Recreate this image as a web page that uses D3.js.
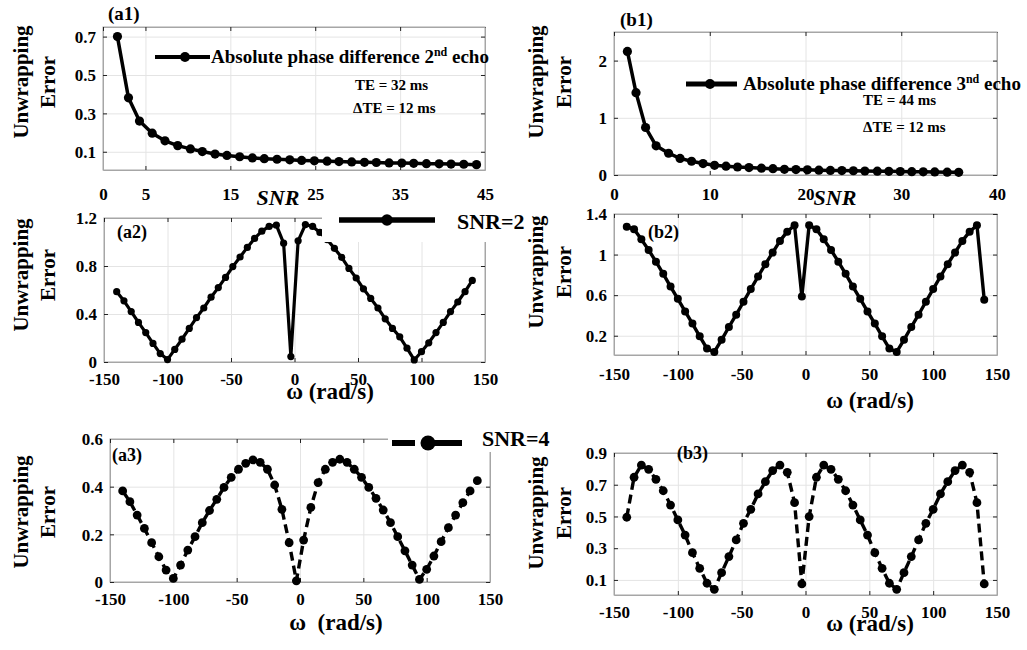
<!DOCTYPE html>
<html><head><meta charset="utf-8">
<script src="https://cdn.jsdelivr.net/npm/d3@7"></script>
<style>
body{margin:0;background:#fff}
svg text{font-family:"Liberation Serif","Times New Roman",Times,Tinos,"DejaVu Serif",serif !important;font-weight:bold;fill:#000}
</style>
</head><body><svg id="c" width="1027" height="650"></svg>
<script>
// ---------- data ----------
const a1SNR = [1.7,3.0,4.3,5.8,7.3,8.8,10.3,11.7,13.2,14.6,16.1,17.6,19.0,20.5,22.0,23.4,24.9,26.4,27.8,29.3,30.8,32.2,33.7,35.2,36.6,38.1,39.6,41.0,42.5,44.0];
const a1Err = [0.70,0.381,0.26,0.197,0.157,0.132,0.115,0.101,0.088,0.081,0.074,0.068,0.064,0.061,0.058,0.055,0.053,0.051,0.049,0.047,0.045,0.044,0.042,0.041,0.040,0.038,0.037,0.036,0.035,0.033];
const b1SNR = [1.4,2.3,3.3,4.4,5.7,6.9,8.1,9.3,10.5,11.7,12.9,14.1,15.4,16.6,17.8,19.0,20.2,21.4,22.6,23.8,25.0,26.2,27.5,28.7,29.9,31.1,32.3,33.5,34.8,36.0];
const b1Err = [2.16,1.44,0.83,0.51,0.38,0.29,0.24,0.20,0.17,0.155,0.14,0.13,0.12,0.11,0.10,0.095,0.09,0.085,0.08,0.077,0.074,0.07,0.067,0.064,0.061,0.058,0.056,0.053,0.05,0.047];
const omega = [-140,-134.29,-128.57,-122.86,-117.14,-111.43,-105.71,-100,-94.29,-88.57,-82.86,-77.14,-71.43,-65.71,-60,-54.29,-48.57,-42.86,-37.14,-31.43,-25.71,-20,-14.29,-8.57,-2.86,2.86,8.57,14.29,20,25.71,31.43,37.14,42.86,48.57,54.29,60,65.71,71.43,77.14,82.86,88.57,94.29,100,105.71,111.43,117.14,122.86,128.57,134.29,140];
const a2Err = [0.586,0.51,0.42,0.33,0.245,0.155,0.07,0.02,0.105,0.19,0.28,0.37,0.45,0.54,0.62,0.705,0.795,0.875,0.955,1.03,1.09,1.13,1.14,0.99,0.045,
               1.01,1.145,1.13,1.08,1.02,0.947,0.872,0.78,0.70,0.61,0.53,0.45,0.36,0.28,0.21,0.115,0.017,0.086,0.16,0.245,0.33,0.42,0.50,0.586,0.68];
const b2Err = [1.275,1.25,1.15,1.045,0.93,0.81,0.685,0.564,0.44,0.32,0.194,0.073,0.04,0.16,0.286,0.407,0.535,0.66,0.784,0.905,1.02,1.135,1.226,1.29,0.587,
               1.29,1.25,1.15,1.045,0.93,0.81,0.685,0.564,0.44,0.32,0.194,0.073,0.04,0.16,0.286,0.407,0.535,0.66,0.784,0.905,1.02,1.135,1.226,1.29,0.555];
const a3Err = [0.382,0.337,0.281,0.225,0.165,0.106,0.05,0.015,0.071,0.134,0.19,0.249,0.30,0.347,0.397,0.439,0.473,0.498,0.512,0.502,0.473,0.407,0.305,0.165,0.005,
               0.176,0.313,0.417,0.473,0.502,0.515,0.502,0.473,0.439,0.397,0.351,0.302,0.249,0.19,0.131,0.071,0.011,0.053,0.109,0.169,0.228,0.281,0.333,0.382,0.425];
const b3Err = [0.495,0.747,0.824,0.797,0.734,0.662,0.572,0.478,0.383,0.272,0.173,0.079,0.041,0.146,0.247,0.352,0.457,0.545,0.642,0.719,0.789,0.824,0.778,0.587,0.075,
               0.499,0.747,0.824,0.797,0.734,0.662,0.572,0.478,0.383,0.272,0.173,0.079,0.041,0.146,0.247,0.352,0.457,0.545,0.642,0.719,0.789,0.824,0.778,0.587,0.075];
const snrTicksA = [0,5,15,25,35,45];
const snrTicksB = [0,10,20,30,40];
const omegaTicks = [-150,-100,-50,0,50,100,150];
const a1YTicks = [0.1,0.3,0.5,0.7];
const b1YTicks = [0,1,2];
const a2YTicks = [0,0.4,0.8,1.2];
const b2YTicks = [0.2,0.6,1,1.4];
const a3YTicks = [0,0.2,0.4,0.6];
const b3YTicks = [0.1,0.3,0.5,0.7,0.9];

const FONT = '"Liberation Serif","Times New Roman",Times,Tinos,"DejaVu Serif",serif';
const svg = d3.select('#c');

function panel(o){
  const x = d3.scaleLinear().domain(o.xd).range(o.xr);
  const y = d3.scaleLinear().domain(o.yd).range(o.yr);
  const g = svg.append('g');
  const h = o.yr[0]-o.yr[1], w = o.xr[1]-o.xr[0];
  const gx = g.append('g').attr('transform',`translate(0,${o.yr[0]})`)
    .call(d3.axisBottom(x).tickValues(o.xt).tickSize(-h).tickFormat(''));
  const gy = g.append('g').attr('transform',`translate(${o.xr[0]},0)`)
    .call(d3.axisLeft(y).tickValues(o.yt).tickSize(-w).tickFormat(''));
  [gx,gy].forEach(s=>{s.select('.domain').remove(); s.selectAll('line').attr('stroke','#e4e4e4');});
  g.append('rect').attr('x',o.xr[0]).attr('y',o.yr[1]).attr('width',w).attr('height',h)
    .attr('fill','none').attr('stroke','#a6a6a6').attr('stroke-width',1);
  const ab = g.append('g').attr('transform',`translate(0,${o.yr[0]})`)
    .call(d3.axisBottom(x).tickValues(o.xt).tickSize(-4).tickSizeOuter(0).tickFormat(d=>String(d)));
  ab.selectAll('text').attr('y',o.xlb-o.yr[0]).attr('dy',0);
  const al = g.append('g').attr('transform',`translate(${o.xr[0]},0)`)
    .call(d3.axisLeft(y).tickValues(o.yt).tickSize(-4).tickSizeOuter(0).tickFormat(d=>String(d)));
  al.selectAll('text').attr('x',-7).attr('dy','0.34em');
  const at = g.append('g').attr('transform',`translate(0,${o.yr[1]})`)
    .call(d3.axisTop(x).tickValues(o.xt).tickSize(-4).tickSizeOuter(0).tickFormat(''));
  const ar = g.append('g').attr('transform',`translate(${o.xr[1]},0)`)
    .call(d3.axisRight(y).tickValues(o.yt).tickSize(-4).tickSizeOuter(0).tickFormat(''));
  [ab,al,at,ar].forEach(s=>{
    s.attr('font-family',FONT).attr('font-size',17).attr('font-weight','bold');
    s.select('.domain').attr('stroke','#a6a6a6'); s.selectAll('.tick line').attr('stroke','#222');
    s.selectAll('text').attr('fill','#000');});
  const line = d3.line().x((d,i)=>x(o.xs[i])).y(d=>y(d));
  g.append('path').datum(o.ys).attr('d',line).attr('fill','none').attr('stroke','#000')
    .attr('stroke-width',o.lw).attr('stroke-linejoin','round')
    .attr('stroke-dasharray',o.dash||null);
  g.selectAll('circle.m').data(o.ys).join('circle').attr('class','m')
    .attr('cx',(d,i)=>x(o.xs[i])).attr('cy',d=>y(d)).attr('r',o.r).attr('fill','#000');
  return {x,y,g};
}

function ylabel(xa, xb, cy){
  const t = svg.append('g');
  t.append('text').attr('transform',`translate(${xa},${cy}) rotate(-90)`).attr('text-anchor','middle')
    .style('font-size','21px').text('Unwrapping');
  t.append('text').attr('transform',`translate(${xb},${cy}) rotate(-90)`).attr('text-anchor','middle')
    .style('font-size','21px').text('Error');
}
function txt(x,y,s,size,anchor,style){
  return svg.append('text').attr('x',x).attr('y',y).attr('text-anchor',anchor||'start')
    .style('font-size',size+'px').style('font-style',style||'normal').text(s);
}

panel({xd:[0,45],xr:[103,485],yd:[0.005,0.75],yr:[170,27],xt:snrTicksA,yt:a1YTicks,xlb:200,xs:a1SNR,ys:a1Err,lw:3.5,r:4.6});
panel({xd:[0,40],xr:[614,997],yd:[0,2.5],yr:[175,32],xt:snrTicksB,yt:b1YTicks,xlb:200,xs:b1SNR,ys:b1Err,lw:3.5,r:4.6});
panel({xd:[-150,150],xr:[104,485],yd:[0,1.2],yr:[362,218],xt:omegaTicks,yt:a2YTicks,xlb:385,xs:omega,ys:a2Err,lw:3.2,r:3.6});
panel({xd:[-150,150],xr:[614,997],yd:[0.01,1.4],yr:[355,214],xt:omegaTicks,yt:b2YTicks,xlb:380,xs:omega,ys:b2Err,lw:3.4,r:4});
panel({xd:[-150,150],xr:[110,490],yd:[0,0.6],yr:[582,439],xt:omegaTicks,yt:a3YTicks,xlb:605,xs:omega,ys:a3Err,lw:3.4,r:4.4,dash:'9,5'});
panel({xd:[-150,150],xr:[614,997],yd:[0.005,0.9],yr:[595,453],xt:omegaTicks,yt:b3YTicks,xlb:618,xs:omega,ys:b3Err,lw:3.4,r:4.4,dash:'9,5'});

ylabel(28,55,82); ylabel(543,571,82);
ylabel(28,55,275); ylabel(543,571,272);
ylabel(28,55,512); ylabel(543,571,513);

txt(278,205,'SNR',22,'middle','italic');
txt(835,205,'SNR',22,'middle','italic');
txt(330,399,'ω (rad/s)',23,'middle');
txt(870,408,'ω (rad/s)',23,'middle');
txt(336,630,'ω\u00a0\u00a0(rad/s)',23,'middle');
txt(870,631,'ω (rad/s)',23,'middle');

txt(108,20,'(a1)',19); txt(620,26,'(b1)',19);
txt(117,238,'(a2)',18); txt(648,238,'(b2)',18);
txt(112,461,'(a3)',18); txt(677,459,'(b3)',18);

svg.append('line').attr('x1',155).attr('x2',210).attr('y1',57).attr('y2',57).attr('stroke','#000').attr('stroke-width',4);
svg.append('circle').attr('cx',185).attr('cy',57).attr('r',5).attr('fill','#000');
{const t=txt(211,63,'Absolute phase difference 2',19); t.append('tspan').attr('dy',-7).style('font-size','12px').text('nd'); t.append('tspan').attr('dy',7).text(' echo');}
txt(355,90,'TE = 32 ms',15); txt(353,113,'ΔTE = 12 ms',15);
svg.append('line').attr('x1',686).attr('x2',737).attr('y1',84).attr('y2',84).attr('stroke','#000').attr('stroke-width',5);
svg.append('circle').attr('cx',710).attr('cy',84).attr('r',5).attr('fill','#000');
{const t=txt(743,90,'Absolute phase difference 3',19); t.append('tspan').attr('dy',-7).style('font-size','12px').text('nd'); t.append('tspan').attr('dy',7).text(' echo');}
txt(863,105,'TE = 44 ms',15); txt(863,132,'ΔTE = 12 ms',15);

svg.append('rect').attr('x',322).attr('y',204).attr('width',203).attr('height',38).attr('fill','#fff');
svg.append('line').attr('x1',339).attr('x2',435).attr('y1',220).attr('y2',220).attr('stroke','#000').attr('stroke-width',5.5);
svg.append('circle').attr('cx',387).attr('cy',220).attr('r',5.8).attr('fill','#000');
txt(457,229,'SNR=2',22);
svg.append('rect').attr('x',388).attr('y',427).attr('width',132).attr('height',25).attr('fill','#fff');
svg.append('line').attr('x1',392).attr('x2',415).attr('y1',443).attr('y2',443).attr('stroke','#000').attr('stroke-width',6);
svg.append('line').attr('x1',432).attr('x2',462).attr('y1',443).attr('y2',443).attr('stroke','#000').attr('stroke-width',6);
svg.append('circle').attr('cx',428).attr('cy',443).attr('r',7.5).attr('fill','#000');
txt(482,446,'SNR=4',22);
</script></body></html>
